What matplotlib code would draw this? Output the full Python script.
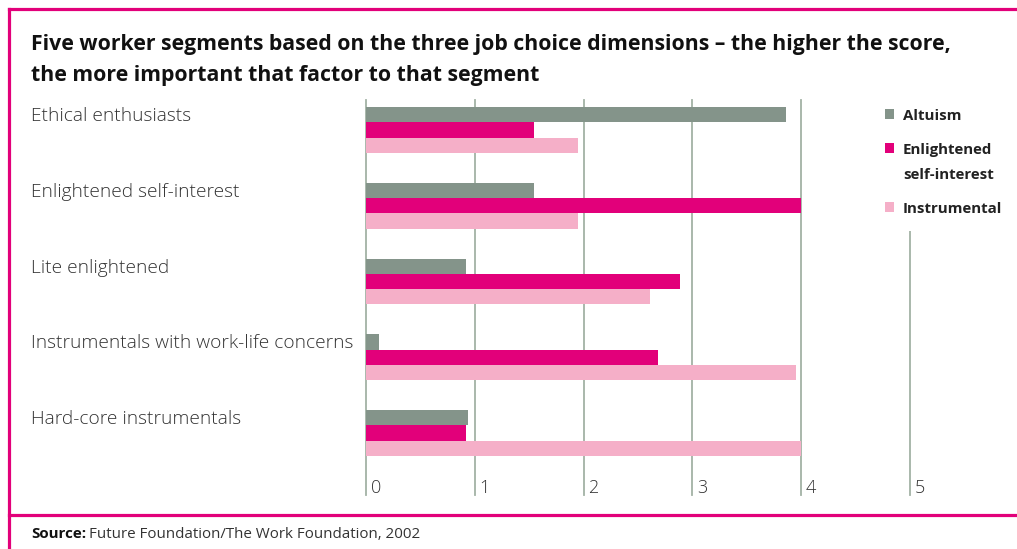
import matplotlib
matplotlib.use("Agg")
import matplotlib.pyplot as plt
from matplotlib.lines import Line2D
from matplotlib.patches import Rectangle
import matplotlib.transforms as mtransforms
import numpy as np

# ---- data -------------------------------------------------------------
segments = [
    "Ethical enthusiasts",
    "Enlightened self-interest",
    "Lite enlightened",
    "Instrumentals with work-life concerns",
    "Hard-core instrumentals",
]
series_names = ["Altuism", "Enlightened\nself-interest", "Instrumental"]
altruism = [3.86, 1.54, 0.92, 0.12, 0.94]
enlightened = [1.54, 4.00, 2.89, 2.68, 0.92]
instrumental = [1.95, 1.95, 2.61, 3.95, 4.00]
x_ticks = [0, 1, 2, 3, 4, 5]

title = ("Five worker segments based on the three job choice dimensions \u2013 the higher the score,\n"
         "the more important that factor to that segment")
source_bold = "Source:"
source_text = "Future Foundation/The Work Foundation, 2002"

# ---- style ------------------------------------------------------------
MAGENTA = "#e2007a"
GREEN_GREY = "#84948a"
PINK = "#f5afc8"
GRID = "#a3b2a5"
TEXT = "#333333"
FONT = "Open Sans"
colors = [GREEN_GREY, MAGENTA, PINK]

W, H = 1017, 549
fig = plt.figure(figsize=(W / 100, H / 100), dpi=100)
fig.patch.set_facecolor("white")


def fy(px):
    """Figure fraction for a pixel row counted from the top."""
    return 1 - px / H


# axes placed in pixel units
ax_left, ax_right, ax_top, ax_bottom = 366, 366 + 5 * 108.8, 100, 495
ax = fig.add_axes([ax_left / W, fy(ax_bottom),
                   (ax_right - ax_left) / W, (ax_bottom - ax_top) / H])
ax.set_xlim(0, 5)
group_gap = 75.75
ax.set_ylim((ax_bottom - 130) / group_gap, -(130 - ax_top) / group_gap)
ax.axis("off")

bar_h = 15.3 / group_gap
y = np.arange(len(segments))
for k, vals in enumerate([altruism, enlightened, instrumental]):
    ax.barh(y + (k - 1) * bar_h, vals, height=bar_h, color=colors[k], zorder=3)

# vertical grid lines with labels to their right
for t in x_ticks:
    ax.axvline(t, color=GRID, lw=1.3, zorder=1, clip_on=False)
    ax.text(t + 0.045, 0.005, str(t), transform=ax.get_xaxis_transform(),
            ha="left", va="baseline", fontsize=13, color=TEXT,
            family=FONT, fontweight="light")

# segment labels aligned with the first bar of each group
lab_tr = mtransforms.blended_transform_factory(fig.transFigure, ax.transData)
for i, s in enumerate(segments):
    fig.text(31 / W, i - bar_h + 1.5 / group_gap, s, transform=lab_tr,
             ha="left", va="center", fontsize=13.8, color=TEXT, family=FONT,
             fontweight="light")

# legend: white panel over the grid, square swatches and bold labels
fig.add_artist(Rectangle((872 / W, fy(231)), 140 / W, 134 / H,
                         transform=fig.transFigure, facecolor="white",
                         edgecolor="none", zorder=4))
legend_rows = [114, 148, 207]
for k, name in enumerate(series_names):
    row = legend_rows[k]
    fig.add_artist(Rectangle((884.5 / W, fy(row + 4.75)), 9.5 / W, 9.5 / H,
                             transform=fig.transFigure, facecolor=colors[k],
                             edgecolor="none", zorder=5))
    fig.text(903 / W, fy(row - 5), name, ha="left", va="top",
             fontsize=10.8, fontweight="bold", color="#222222",
             family=FONT, linespacing=2.0, zorder=6)

# title
fig.text(31 / W, fy(34), title, ha="left", va="top", fontsize=15.3,
         fontweight="bold", color="#111111", family=FONT, linespacing=1.65)

# source line
st = fig.text(31 / W, fy(534), source_bold, ha="left", va="center",
              fontsize=10.9, fontweight="bold", color="#111111", family=FONT)
fig.canvas.draw()
bb = st.get_window_extent()
fig.text((bb.x1 + 3) / W, fy(534), source_text, ha="left", va="center",
         fontsize=10.9, color=TEXT, family=FONT)

# magenta frame
frame_kw = dict(color=MAGENTA, lw=2.3, transform=fig.transFigure)
fig.add_artist(Line2D([9 / W, 1], [fy(9), fy(9)], **frame_kw))
fig.add_artist(Line2D([9 / W, 9 / W], [fy(9), 0], **frame_kw))
fig.add_artist(Line2D([9 / W, 1], [fy(515), fy(515)], **frame_kw))

fig.savefig("out.png", dpi=100, facecolor="white")
